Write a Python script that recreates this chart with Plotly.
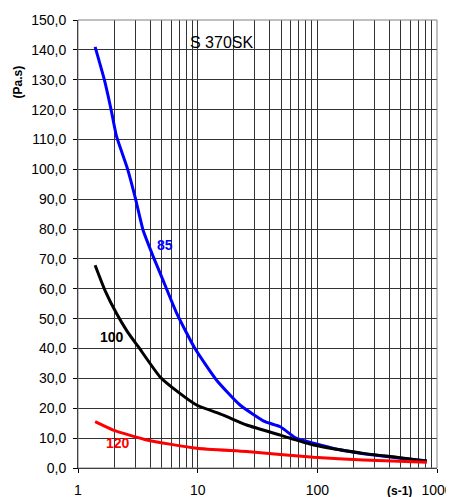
import math
import plotly.graph_objects as go

# Shear rate (s-1) and viscosity (Pa.s) for S 370SK at 85, 100, 120 °C
x85 = [1.39, 1.66, 1.89, 2.1, 2.6, 3.0, 3.5, 4.26, 5.0, 6.7, 9.5, 14.4, 22.6, 36.6, 49, 67, 93, 150, 243, 460, 822]
y85 = [141.0, 130.0, 120.0, 111.0, 100.0, 90.7, 79.6, 70.7, 64.0, 51.7, 40.0, 29.4, 21.1, 15.5, 13.8, 9.9, 8.3, 6.2, 4.8, 3.4, 2.4]

x100 = [1.39, 1.68, 2.1, 2.6, 3.19, 4.85, 7.1, 9.8, 16.4, 25.7, 49, 93, 243, 460, 822]
y100 = [67.9, 59.5, 51.7, 45.5, 40.6, 30.5, 25.0, 21.1, 17.7, 14.4, 11.0, 7.7, 4.9, 3.6, 2.3]

x120 = [1.39, 1.97, 3.75, 9.8, 25.7, 93, 243, 822]
y120 = [15.5, 12.7, 9.4, 6.6, 5.5, 3.6, 2.7, 1.9]

series_names = ["85", "100", "120"]
series_colors = ["#0000FF", "#000000", "#FF0000"]

y_ticks = list(range(0, 151, 10))
y_tick_text = [f"{v},0" for v in y_ticks]
x_ticks = [1, 10, 100, 1000]
x_tick_text = ["1", "10", "100", "1000"]

FONT = "Liberation Sans, Arial, sans-serif"

fig = go.Figure()
for xs, ys, name, col in zip([x85, x100, x120], [y85, y100, y120], series_names, series_colors):
    fig.add_trace(go.Scatter(x=xs, y=ys, mode="lines", name=name,
                             line=dict(color=col, width=3, shape="spline", smoothing=0.5)))

# curve labels (log axis: annotation x given as log10)
label_pos = [(5.3, 74.5), (1.93, 43.8), (2.17, 8.4)]
for (lx, ly), name, col in zip(label_pos, series_names, series_colors):
    fig.add_annotation(x=math.log10(lx), y=ly, xref="x", yref="y", text=f"<b>{name}</b>",
                       showarrow=False, font=dict(family=FONT, size=14, color=col))

fig.add_annotation(x=math.log10(15.8), y=142.5, xref="x", yref="y", text="S 370SK", showarrow=False,
                   font=dict(family=FONT, size=16, color="#000000"))

# page body has an 8px margin: plot area in window px = left 78, right 437, top 19.5, bottom 468
fig.add_annotation(x=(399 - 78) / (437 - 78), y=-0.052, xref="paper", yref="paper",
                   text="<b>(s-1)</b>", showarrow=False, xanchor="center", yanchor="middle",
                   font=dict(family=FONT, size=12, color="#000000"))
fig.add_annotation(x=(18 - 78) / (437 - 78), y=(468 - 82) / (468 - 19.5), xref="paper", yref="paper",
                   text="<b>(Pa.s)</b>", showarrow=False, textangle=-90,
                   xanchor="center", yanchor="middle",
                   font=dict(family=FONT, size=12, color="#000000"))

# plot border
fig.add_shape(type="rect", xref="paper", yref="paper", x0=0, y0=0, x1=1, y1=1,
              line=dict(color="#808080", width=1))

fig.update_layout(
    template="none",
    width=446, height=489,
    margin=dict(l=70, r=17, t=11.5, b=29, autoexpand=False),
    paper_bgcolor="white", plot_bgcolor="white",
    showlegend=False,
    font=dict(family=FONT, size=14, color="#000000"),
    xaxis=dict(type="log", range=[0, 3], tickvals=x_ticks, ticktext=x_tick_text,
               automargin=False,
               showgrid=True, gridcolor="#333333", gridwidth=1,
               minor=dict(dtick="D1", showgrid=True, gridcolor="#333333", gridwidth=1, ticks=""),
               ticks="outside", ticklen=4, tickcolor="#000000",
               showline=True, linecolor="#000000", linewidth=1,
               ticklabelstandoff=5, zeroline=False),
    yaxis=dict(range=[0, 150], tickvals=y_ticks, ticktext=y_tick_text,
               automargin=False,
               showgrid=True, gridcolor="#333333", gridwidth=1,
               ticks="outside", ticklen=4, tickcolor="#000000",
               showline=True, linecolor="#000000", linewidth=1,
               ticklabelstandoff=4, zeroline=False),
)

fig.write_html("out.html")
